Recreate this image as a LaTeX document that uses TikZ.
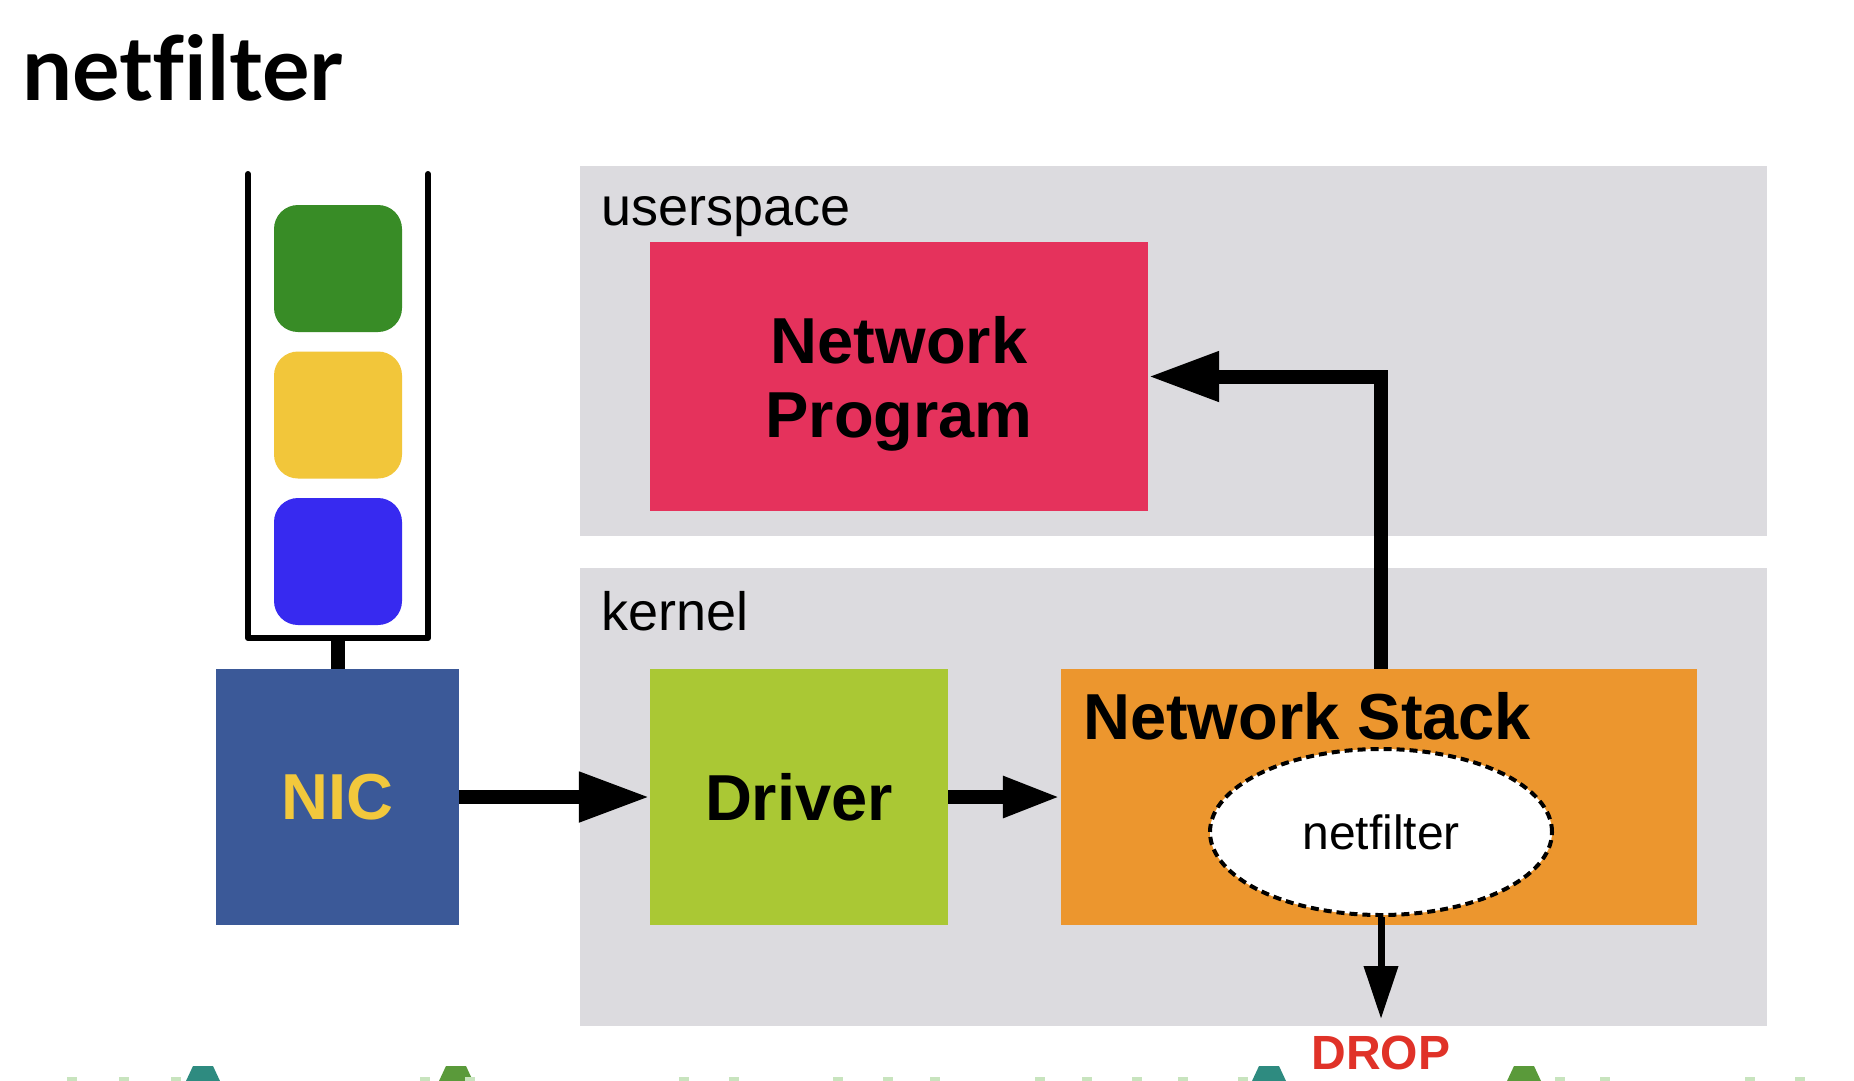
\documentclass[tikz,border=0pt]{standalone}
\usepackage{fontspec}
\setmainfont{Liberation Sans}
\newfontfamily\titlefont[Ligatures=NoCommon]{Lato}
\usetikzlibrary{arrows.meta,shapes.geometric}
\definecolor{panelgray}{RGB}{220,219,223}
\definecolor{npred}{RGB}{229,50,92}
\definecolor{drvgreen}{RGB}{170,200,52}
\definecolor{stackorange}{RGB}{236,150,46}
\definecolor{nicblue}{RGB}{59,89,152}
\definecolor{nicyellow}{RGB}{242,200,60}
\definecolor{sqgreen}{RGB}{56,140,38}
\definecolor{sqyellow}{RGB}{242,198,58}
\definecolor{sqblue}{RGB}{55,42,240}
\definecolor{dropred}{RGB}{224,50,40}
\definecolor{decoteal}{RGB}{46,139,128}
\definecolor{decogreen}{RGB}{90,154,58}
\definecolor{decolight}{RGB}{200,228,190}
\tikzset{
  panel/.style={fill=panelgray, draw=none, inner sep=0pt, anchor=north west},
  box/.style={draw=none, inner sep=0pt, font=\bfseries\fontsize{65}{74}\selectfont, align=center},
  plabel/.style={inner sep=0pt, anchor=base west, font=\fontsize{54}{60}\selectfont},
  packet/.style={rounded corners=24pt, inner sep=0pt, minimum width=128pt, minimum height=127pt},
  bigarrow/.style={line width=14pt, -{Triangle[length=71pt,width=47pt]}},
  midarrow/.style={line width=14pt, -{Triangle[length=58pt,width=38pt]}},
  droparrow/.style={line width=7pt, -{Triangle[length=53pt,width=33pt]}},
}
\begin{document}
\begin{tikzpicture}[x=1pt,y=-1pt]
\useasboundingbox[fill=white] (0,0) rectangle (1854,1080);

% title
\node[inner sep=0pt, anchor=base west, font=\titlefont\bfseries\fontsize{89}{92}\selectfont] (title) at (22,100) {netfilter};

% panels
\node[panel, minimum width=1187pt, minimum height=370pt] (user) at (580,166) {};
\node[panel, minimum width=1187pt, minimum height=458pt] (kern) at (580,568) {};
\node[plabel] (userlbl) at (601,225) {userspace};
\node[plabel] (kernlbl) at (601,630) {kernel};

% queue
\draw[line width=6pt, line cap=round, line join=round] (248,174) -- (248,638) -- (428,638) -- (428,174);
\coordinate (qbot) at (338,638);
\node[packet, fill=sqgreen] (pk1) at (338,268.5) {};
\node[packet, fill=sqyellow] (pk2) at (338,415) {};
\node[packet, fill=sqblue] (pk3) at (338,561.5) {};

% boxes
\node[box, fill=nicblue, text=nicyellow, minimum width=243pt, minimum height=256pt] (nic) at (337.5,797) {NIC};
\node[box, fill=npred, minimum width=498pt, minimum height=269pt] (np) at (899,376.5) {};
\node[box, anchor=center] (nptext) at (899,384) {Network\\Program};
\node[box, fill=drvgreen, minimum width=298pt, minimum height=256pt] (drv) at (799,797) {Driver};
\node[box, fill=stackorange, minimum width=636pt, minimum height=256pt] (ns) at (1379,797) {};
\node[inner sep=0pt, anchor=base west, font=\bfseries\fontsize{65}{74}\selectfont] (nslbl) at (1083,739) {Network Stack};
\node[ellipse, fill=white, draw=black, line width=4pt, dash pattern=on 8pt off 5pt, minimum width=342pt, minimum height=166pt, inner sep=0pt, font=\fontsize{48}{54}\selectfont] (nf) at (1381,832) {netfilter};

% stem
\draw[line width=14pt] (qbot) -- (qbot |- nic.north);

% arrows
\draw[bigarrow] (nic.east) -- (drv.west);
\draw[midarrow] (drv.east) -- (ns.west);
\draw[bigarrow] (nf.north |- ns.north) |- (np.east);

% drop
\node[inner sep=0pt, anchor=base, text=dropred, font=\bfseries\fontsize{48}{52}\selectfont] (drop) at (1381,1069) {DROP};
\coordinate (droptip) at (1381,1019);
\draw[droparrow] (nf.south) -- (droptip);

% bottom decorations
\foreach \x/\c in {203/decoteal, 1269/decoteal, 456/decogreen, 1524/decogreen}{
  \fill[\c] (\x-17,1081) -- (\x-10,1066) -- (\x+10,1066) -- (\x+17,1081) -- cycle;
}
\foreach \x in {72,124,176,425,470,684,734,838,888,935,1040,1087,1137,1183,1243,1560,1605,1750,1800}{
  \fill[decolight] (\x-5,1077) rectangle (\x+5,1081);
}
\end{tikzpicture}
\end{document}
